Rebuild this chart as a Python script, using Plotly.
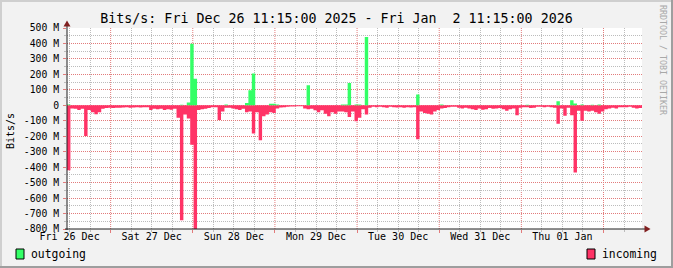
import pandas as pd
import plotly.graph_objects as go

# ---------------- data (Mbit/s, hourly, starting Fri 26 Dec 2025 11:15) ----------------
START = "2025-12-26 11:15"
END = "2026-01-02 11:15"

incoming_m = [
    420, 20, 22, 30, 22, 198, 30, 45, 58, 45, 22, 18,
    15, 18, 15, 16, 14, 13, 15, 14, 12, 14, 13, 12,
    30, 22, 25, 22, 30, 25, 28, 22, 80, 743, 60, 85,
    255, 800, 30, 25, 22, 18, 12, 12, 95, 40, 15, 15,
    20, 25, 30, 22, 45, 40, 182, 45, 226, 70, 60, 45,
    50, 20, 14, 12, 10, 8, 8, 6, 6, 20, 25, 22,
    32, 45, 32, 55, 70, 45, 55, 40, 40, 45, 75, 40,
    103, 80, 25, 60, 15, 10, 12, 10, 12, 15, 10, 12,
    14, 12, 15, 12, 14, 12, 220, 40, 50, 55, 60, 40,
    30, 20, 18, 12, 10, 10, 15, 20, 15, 20, 25, 30,
    20, 28, 25, 18, 22, 20, 18, 25, 35, 25, 20, 65,
    15, 12, 12, 18, 15, 10, 10, 12, 10, 12, 15, 120,
    20, 68, 15, 65, 435, 35, 100, 35, 40, 35, 45, 55,
    40, 25, 20, 15, 20, 12, 12, 12, 10, 15, 20, 18,
]

outgoing_m = [
    5, 0, 0, 0, 0, 0, 0, 0, 0, 0, 0, 0,
    0, 0, 0, 0, 0, 0, 0, 0, 0, 0, 0, 0,
    0, 0, 0, 0, 0, 0, 0, 0, 0, 3, 0, 18,
    398, 172, 0, 0, 0, 0, 0, 0, 0, 0, 5, 0,
    0, 0, 0, 0, 15, 97, 205, 0, 0, 0, 0, 10,
    10, 6, 0, 0, 0, 0, 0, 0, 0, 0, 130, 0,
    0, 0, 0, 0, 0, 0, 0, 0, 5, 5, 144, 0,
    5, 5, 0, 441, 0, 0, 0, 0, 0, 0, 0, 0,
    0, 0, 0, 0, 0, 0, 70, 0, 0, 0, 0, 0,
    0, 5, 0, 0, 0, 0, 0, 0, 0, 0, 0, 0,
    0, 0, 0, 0, 0, 0, 0, 0, 0, 0, 0, 0,
    0, 0, 4, 0, 0, 0, 0, 0, 0, 0, 0, 26,
    0, 0, 0, 32, 12, 0, 5, 0, 0, 4, 0, 5,
    0, 0, 0, 0, 0, 0, 0, 0, 0, 0, 0, 0,
]

day_labels = ["Fri 26 Dec", "Sat 27 Dec", "Sun 28 Dec", "Mon 29 Dec",
              "Tue 30 Dec", "Wed 31 Dec", "Thu 01 Jan"]
y_ticks_m = [500, 400, 300, 200, 100, 0, -100, -200, -300, -400, -500, -600, -700, -800]
y_tick_text = ["500 M", "400 M", "300 M", "200 M", "100 M", "0", "-100 M", "-200 M",
               "-300 M", "-400 M", "-500 M", "-600 M", "-700 M", "-800 M"]

TITLE = "Bits/s: Fri Dec 26 11:15:00 2025 - Fri Jan \u00a02 11:15:00 2026"

# ---------------- styling ----------------
W, H = 673, 268
L, R, T, B = 67, 31, 28, 39
PW, PH = W - L - R, H - T - B
FONT = "DejaVu Sans Mono"
GREEN = "#33ff66"
RED = "#ff3366"
GRID = "#bcbcbc"
MGRID = "#e27b7b"
ARROW = "#801f1f"
AXIS = "#1f1f1f"
DASH = "1px,1px"


def fx(p):
    return (p - L) / PW


def fy(p):
    return (H - B - p) / PH


n = len(incoming_m)
edges = pd.date_range(START, periods=n + 1, freq="h")
y_in = [-v * 1e6 for v in incoming_m] + [-incoming_m[-1] * 1e6]
y_out = [v * 1e6 for v in outgoing_m] + [outgoing_m[-1] * 1e6]

fig = go.Figure()
fig.add_trace(go.Scatter(x=edges, y=y_in, mode="lines", line=dict(width=0, shape="hv", color=RED),
                         fill="tozeroy", fillcolor=RED, hoverinfo="skip", showlegend=False))
fig.add_trace(go.Scatter(x=edges, y=y_out, mode="lines", line=dict(width=0, shape="hv", color=GREEN),
                         fill="tozeroy", fillcolor=GREEN, hoverinfo="skip", showlegend=False,
                         xaxis="x2"))

noons = [t.strftime("%Y-%m-%d %H:%M") for t in pd.date_range("2025-12-26 12:00", periods=len(day_labels), freq="D")]
midnights = [t.strftime("%Y-%m-%d %H:%M") for t in pd.date_range("2025-12-27 00:00", periods=7, freq="D")]
six_hours = [t.strftime("%Y-%m-%d %H:%M")
             for t in pd.date_range("2025-12-26 12:00", END, freq="6h") if t.hour != 0]

fig.update_layout(
    width=W, height=H,
    margin=dict(l=L, r=R, t=T, b=B, pad=0),
    paper_bgcolor="#f2f2f2", plot_bgcolor="#ffffff",
    font=dict(family=FONT, size=10, color="#000"),
    title=dict(text=TITLE, x=0.5, xanchor="center", y=1 - 18.5 / H, yanchor="middle",
               font=dict(family=FONT, size=13.3, color="#000")),
    showlegend=False,
    xaxis=dict(type="date", range=[START, END], tickmode="array", tickvals=midnights,
               showticklabels=False, showgrid=False,
               ticks="outside", ticklen=3, tickcolor=MGRID,
               minor=dict(tickmode="array", tickvals=six_hours, showgrid=True,
                          gridcolor=GRID, griddash=DASH, gridwidth=1,
                          ticks="outside", ticklen=2, tickcolor=GRID),
               zeroline=False, showline=False, fixedrange=True),
    xaxis2=dict(type="date", overlaying="x", matches="x", side="bottom", range=[START, END],
                tickmode="array", tickvals=noons, ticktext=day_labels, ticks="",
                showgrid=False, zeroline=False, showline=False,
                tickfont=dict(family=FONT, size=10, color="#000")),
    yaxis=dict(range=[-800e6, 500e6], tickmode="array",
               tickvals=[v * 1e6 for v in y_ticks_m], ticktext=y_tick_text,
               showgrid=True, gridcolor=MGRID, gridwidth=1, griddash=DASH,
               ticks="outside", ticklen=3, tickcolor=MGRID, ticklabelstandoff=2,
               minor=dict(tickmode="array", tickvals=[(v - 50) * 1e6 for v in y_ticks_m[:-1]],
                          showgrid=True, gridcolor=GRID,
                          griddash=DASH, gridwidth=1, ticks="outside", ticklen=2,
                          tickcolor=GRID),
               zeroline=False, showline=False,
               tickfont=dict(family=FONT, size=9.75, color="#000"), fixedrange=True),
)

shapes = []
# major (midnight) vertical grid lines, drawn under the data
for m in midnights:
    shapes.append(dict(type="line", xref="x", yref="paper", x0=m, x1=m, y0=0, y1=1,
                       line=dict(color=MGRID, width=1, dash=DASH), layer="below"))
# frame shading
shapes.append(dict(type="rect", xref="paper", yref="paper", x0=fx(0), x1=fx(W), y0=fy(2), y1=fy(0),
                   fillcolor="#cfcfcf", line=dict(width=0), layer="above"))
shapes.append(dict(type="rect", xref="paper", yref="paper", x0=fx(0), x1=fx(2), y0=fy(H), y1=fy(0),
                   fillcolor="#cfcfcf", line=dict(width=0), layer="above"))
shapes.append(dict(type="rect", xref="paper", yref="paper", x0=fx(W - 2), x1=fx(W), y0=fy(H), y1=fy(0),
                   fillcolor="#9e9e9e", line=dict(width=0), layer="above"))
shapes.append(dict(type="rect", xref="paper", yref="paper", x0=fx(0), x1=fx(W), y0=fy(H), y1=fy(H - 2),
                   fillcolor="#9e9e9e", line=dict(width=0), layer="above"))
# axes
shapes.append(dict(type="line", xref="paper", yref="paper", x0=fx(L), x1=fx(L), y0=fy(H - B + 1), y1=fy(25),
                   line=dict(color=AXIS, width=1), layer="above"))
shapes.append(dict(type="line", xref="paper", yref="paper", x0=fx(L - 2), x1=fx(646), y0=0, y1=0,
                   line=dict(color=AXIS, width=1), layer="above"))
# arrows
shapes.append(dict(type="path", xref="paper", yref="paper",
                   path=f"M {fx(63.5)},{fy(26.5)} L {fx(70.5)},{fy(26.5)} L {fx(67)},{fy(20.5)} Z",
                   fillcolor=ARROW, line=dict(width=0), layer="above"))
shapes.append(dict(type="path", xref="paper", yref="paper",
                   path=f"M {fx(644.5)},{fy(225.5)} L {fx(644.5)},{fy(232.5)} L {fx(650.5)},{fy(229)} Z",
                   fillcolor=ARROW, line=dict(width=0), layer="above"))
# legend boxes
shapes.append(dict(type="rect", xref="paper", yref="paper", x0=fx(16), x1=fx(24), y0=fy(259), y1=fy(249),
                   fillcolor=GREEN, line=dict(color="#000", width=1), layer="above"))
shapes.append(dict(type="rect", xref="paper", yref="paper", x0=fx(587), x1=fx(595), y0=fy(259), y1=fy(249),
                   fillcolor=RED, line=dict(color="#000", width=1), layer="above"))
fig.update_layout(shapes=shapes)

ann = [
    dict(text="outgoing", x=fx(29), y=fy(254), xanchor="left", yanchor="middle"),
    dict(text="incoming", x=fx(600), y=fy(254), xanchor="left", yanchor="middle"),
]
annotations = []
for a in ann:
    a.update(xref="paper", yref="paper", showarrow=False,
             font=dict(family=FONT, size=11.4, color="#000"))
    annotations.append(a)
annotations.append(dict(text="Bits/s", xref="paper", yref="paper", x=fx(10), y=fy(131),
                        xanchor="center", yanchor="middle", textangle=-90, showarrow=False,
                        font=dict(family=FONT, size=10, color="#000")))
annotations.append(dict(text="RRDTOOL / TOBI OETIKER", xref="paper", yref="paper", x=fx(663), y=fy(60),
                        xanchor="center", yanchor="middle", textangle=90, showarrow=False,
                        font=dict(family=FONT, size=8.3, color="#a8a8a8")))
fig.update_layout(annotations=annotations)

fig.write_html("out.html")
